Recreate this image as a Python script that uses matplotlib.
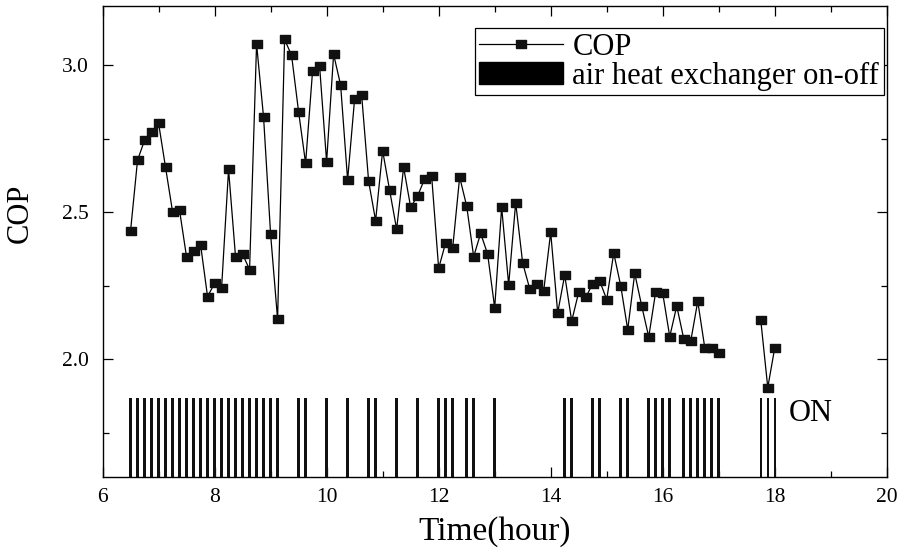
import matplotlib
matplotlib.use("Agg")
import matplotlib.pyplot as plt
from matplotlib.ticker import MultipleLocator
from matplotlib.patches import Patch
from matplotlib.lines import Line2D

plt.rcParams['font.family'] = ['Liberation Serif', 'DejaVu Serif']

# ---- data ----
time_a = [6.5, 6.625, 6.75, 6.875, 7.0, 7.125, 7.25, 7.375, 7.5, 7.625, 7.75, 7.875,
          8.0, 8.125, 8.25, 8.375, 8.5, 8.625, 8.75, 8.875, 9.0, 9.125, 9.25, 9.375,
          9.5, 9.625, 9.75, 9.875, 10.0, 10.125, 10.25, 10.375, 10.5, 10.625, 10.75,
          10.875, 11.0, 11.125, 11.25, 11.375, 11.5, 11.625, 11.75, 11.875, 12.0,
          12.125, 12.25, 12.375, 12.5, 12.625, 12.75, 12.875, 13.0, 13.125, 13.25,
          13.375, 13.5, 13.625, 13.75, 13.875, 14.0, 14.125, 14.25, 14.375, 14.5,
          14.625, 14.75, 14.875, 15.0, 15.125, 15.25, 15.375, 15.5, 15.625, 15.75,
          15.875, 16.0, 16.125, 16.25, 16.375, 16.5, 16.625, 16.75, 16.875, 17.0]
cop_a = [2.435, 2.676, 2.744, 2.772, 2.803, 2.652, 2.502, 2.506, 2.348, 2.367, 2.39, 2.213,
         2.258, 2.241, 2.645, 2.347, 2.357, 2.305, 3.071, 2.822, 2.426, 2.136, 3.087, 3.032,
         2.841, 2.666, 2.981, 2.996, 2.671, 3.036, 2.932, 2.609, 2.885, 2.899, 2.605,
         2.471, 2.709, 2.574, 2.442, 2.652, 2.517, 2.555, 2.613, 2.623, 2.309,
         2.396, 2.377, 2.619, 2.521, 2.349, 2.428, 2.357, 2.175, 2.516, 2.253,
         2.532, 2.327, 2.24, 2.257, 2.233, 2.431, 2.158, 2.286, 2.13, 2.228,
         2.21, 2.257, 2.266, 2.203, 2.361, 2.25, 2.101, 2.292, 2.181, 2.076,
         2.23, 2.224, 2.077, 2.181, 2.07, 2.062, 2.197, 2.04, 2.037, 2.02]
time_b = [17.75, 17.875, 18.0]
cop_b = [2.133, 1.904, 2.04]

on_times = [6.5, 6.625, 6.75, 6.875, 7.0, 7.125, 7.25, 7.375, 7.5, 7.625, 7.75, 7.875,
            8.0, 8.125, 8.25, 8.375, 8.5, 8.625, 8.75, 8.875, 9.0, 9.125,
            9.5, 9.625, 10.0, 10.375, 10.75, 10.875, 11.25, 11.625, 12.0, 12.125, 12.25,
            12.5, 12.625, 13.0, 14.25, 14.375, 14.75, 14.875, 15.25, 15.375,
            15.75, 15.875, 16.0, 16.125, 16.375, 16.5, 16.625, 16.75, 16.875, 17.0,
            17.75, 17.875, 18.0]
ON_LEVEL = 1.87

# ---- figure ----
fig = plt.figure(figsize=(9.04, 5.49), dpi=100)
ax = fig.add_axes([0.1134, 0.131, 0.8676, 0.858])

ax.bar(on_times, [ON_LEVEL] * len(on_times), width=0.045, color='#111111',
       linewidth=0, zorder=2)

rect = [(-1.25, -1), (1.25, -1), (1.25, 1), (-1.25, 1), (-1.25, -1)]
mk = dict(marker=rect, markersize=6.8, markerfacecolor='#111111', markeredgecolor='#111111')
ax.plot(time_a, cop_a, color='black', lw=0.9, zorder=3, **mk)
ax.plot(time_b, cop_b, color='black', lw=0.9, zorder=3, **mk)

ax.set_xlim(6, 20)
ax.set_ylim(1.6, 3.2)
ax.xaxis.set_major_locator(MultipleLocator(2))
ax.xaxis.set_minor_locator(MultipleLocator(1))
ax.set_yticks([2.0, 2.5, 3.0])
ax.set_yticklabels(['2.0', '2.5', '3.0'])
ax.yaxis.set_minor_locator(MultipleLocator(0.25))
ax.tick_params(which='both', direction='in', top=True, right=True, labelsize=15.5)
ax.tick_params(which='major', length=7, width=0.9)
ax.tick_params(which='minor', length=4, width=0.9)
ax.tick_params(axis='x', pad=8)
ax.tick_params(axis='y', pad=10)
for s in ax.spines.values():
    s.set_linewidth(1.0)

ax.set_xlabel('Time(hour)', fontsize=24)
ax.xaxis.set_label_coords(0.5, -0.083, transform=ax.transAxes)
ax.xaxis.label.set_va('top')
ax.set_ylabel('COP', fontsize=22)
ax.yaxis.set_label_coords(-0.086, 0.56)

ax.text(18.25, 1.815, 'ON', fontsize=22, ha='left', va='center')

handles = [Line2D([0], [0], color='black', lw=0.9, **mk),
           Patch(facecolor='black', edgecolor='black')]
leg = ax.legend(handles, ['COP', 'air heat exchanger on-off'], loc='upper right',
                bbox_to_anchor=(0.996, 0.953), fontsize=22, frameon=True, fancybox=False,
                edgecolor='black', framealpha=1, borderpad=0.15, handlelength=2.75,
                handleheight=0.75, handletextpad=0.3, labelspacing=0.0,
                borderaxespad=0.0, numpoints=1)
leg.get_frame().set_linewidth(0.9)

fig.savefig('out.png', dpi=100)
